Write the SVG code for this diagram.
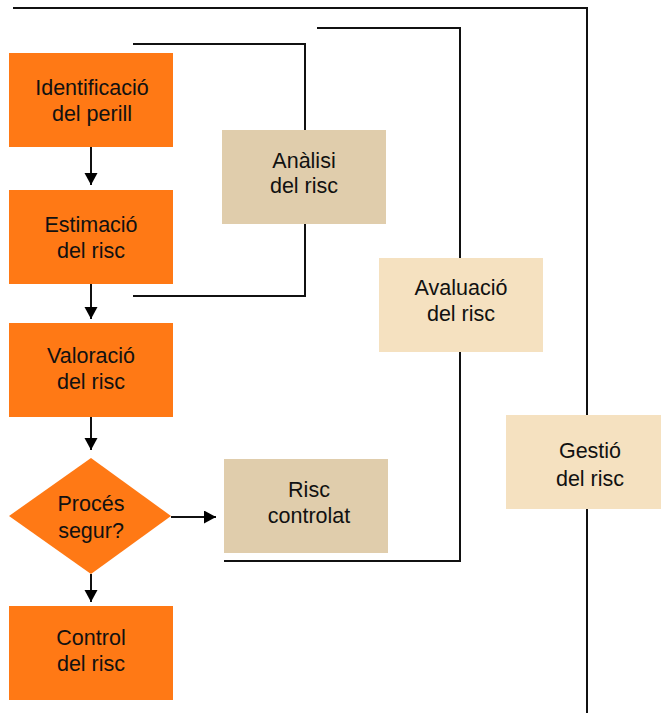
<svg xmlns="http://www.w3.org/2000/svg" width="661" height="713" viewBox="0 0 661 713">
<style>
.c{fill:none;stroke:#111;stroke-width:2}
.o{fill:#FF7915}
.t{fill:#E0CDAC}
.l{fill:#F5E1C0}
text{font-family:"Liberation Sans",Arial,sans-serif;font-size:21.5px;fill:#111;text-anchor:middle}
</style>
<defs>
<marker id="ah" markerUnits="userSpaceOnUse" markerWidth="14" markerHeight="14" refX="12" refY="6.5" orient="auto">
<path d="M0,0 L12,6.5 L0,13 z" fill="#000"/>
</marker>
</defs>
<rect width="661" height="713" fill="#fff"/>
<g id="connectors">
<polyline class="c" points="13,8 587,8 587,713"/>
<polyline class="c" points="317,28 460,28 460,561 224,561"/>
<polyline class="c" points="133,44 305,44 305,296 133,296"/>
<line class="c" x1="91" y1="147" x2="91" y2="185" marker-end="url(#ah)"/>
<line class="c" x1="91" y1="284" x2="91" y2="319" marker-end="url(#ah)"/>
<line class="c" x1="91" y1="417" x2="91" y2="450" marker-end="url(#ah)"/>
<line class="c" x1="91" y1="574" x2="91" y2="602" marker-end="url(#ah)"/>
<line class="c" x1="171" y1="517" x2="216" y2="517" marker-end="url(#ah)"/>
</g>
<g id="identificacio">
<rect class="o" x="9" y="53" width="164" height="94"/>
<text x="92" y="95">Identificació</text>
<text x="92" y="121">del perill</text>
</g>
<g id="estimacio">
<rect class="o" x="9" y="190" width="164" height="94"/>
<text x="91" y="232">Estimació</text>
<text x="91" y="258">del risc</text>
</g>
<g id="valoracio">
<rect class="o" x="9" y="323" width="164" height="94"/>
<text x="91" y="363">Valoració</text>
<text x="91" y="389">del risc</text>
</g>
<g id="proces">
<polygon class="o" points="91,458 171,516 91,574 9,516"/>
<text x="91" y="511">Procés</text>
<text x="91" y="538">segur?</text>
</g>
<g id="control">
<rect class="o" x="9" y="606" width="164" height="94"/>
<text x="91" y="645">Control</text>
<text x="91" y="671">del risc</text>
</g>
<g id="analisi">
<rect class="t" x="222" y="130" width="164" height="94"/>
<text x="304" y="168">Anàlisi</text>
<text x="304" y="193">del risc</text>
</g>
<g id="risc-controlat">
<rect class="t" x="224" y="459" width="164" height="94"/>
<text x="309" y="497">Risc</text>
<text x="309" y="523">controlat</text>
</g>
<g id="avaluacio">
<rect class="l" x="379" y="258" width="164" height="94"/>
<text x="461" y="295">Avaluació</text>
<text x="461" y="321">del risc</text>
</g>
<g id="gestio">
<rect class="l" x="506" y="415" width="164" height="94"/>
<text x="590" y="458">Gestió</text>
<text x="590" y="486">del risc</text>
</g>
</svg>
